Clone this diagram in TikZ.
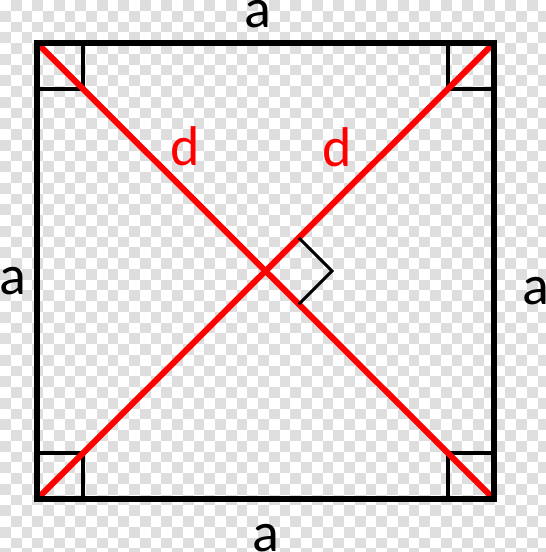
\documentclass[tikz,border=0pt]{standalone}
\usepackage{fontspec}
\setmainfont{Carlito}
\usepackage{tikz}
\usetikzlibrary{calc}
\tikzstyle{frame}=[draw=black,line width=6pt]
\tikzstyle{corner}=[draw=black,line width=3.5pt]
\tikzstyle{diag}=[draw=red,line width=6pt]
\tikzstyle{rightangle}=[draw=black,line width=3pt]
\tikzstyle{side}=[font=\fontsize{56}{60}\selectfont,text=black,inner sep=0pt]
\tikzstyle{dlabel}=[font=\fontsize{56}{60}\selectfont,text=red,inner sep=0pt]
\begin{document}
\begin{tikzpicture}[x=1pt,y=-1pt]
    \useasboundingbox (0,0) rectangle (546,552);
    % checkerboard of the transparent background
    \foreach \i in {0,...,50}
      \foreach \j in {0,...,51}{
        \pgfmathtruncatemacro{\cb}{mod(\i+\j,2)}
        \ifnum\cb=1
          \fill[black!13] (\i*10.75,\j*10.75) rectangle ++(10.75,10.75);
        \fi
      }
    % First we place the corners of the square
    \coordinate (TL) at (37,43);
    \coordinate (TR) at (494,43);
    \coordinate (BR) at (494,499);
    \coordinate (BL) at (37,499);
    \coordinate (O) at (265.5,271);
    \coordinate (A1) at (298.7,237.8);
    \coordinate (A2) at (332,271);
    \coordinate (A3) at (298.7,304.2);

    % small squares in the corners
    \path[corner] (TL) rectangle ++(46,46);
    \path[corner] (TR) rectangle ++(-46,46);
    \path[corner] (BR) rectangle ++(-46,-46);
    \path[corner] (BL) rectangle ++(46,-46);

    % the two diagonals
    \foreach \source/\dest in {TL/BR, TR/BL}
        \path[diag] (\source) -- (\dest);

    % right angle at the crossing
    \path[rightangle] (A1) -- (A2) -- (A3);

    % the square itself
    \path[frame,line join=miter] (TL) -- (TR) -- (BR) -- (BL) -- cycle;

    % labels
    \foreach \pos/\name/\label in {{(258,14)/top/a}, {(266,538)/bottom/a},
      {(12.5,281.5)/left/a}, {(535.5,291)/right/a}}
        \node[side] (\name) at \pos {\label};
    \foreach \pos/\name/\label in {{(185,146)/dleft/d}, {(337,147)/dright/d}}
        \node[dlabel] (\name) at \pos {\label};
\end{tikzpicture}
\end{document}
